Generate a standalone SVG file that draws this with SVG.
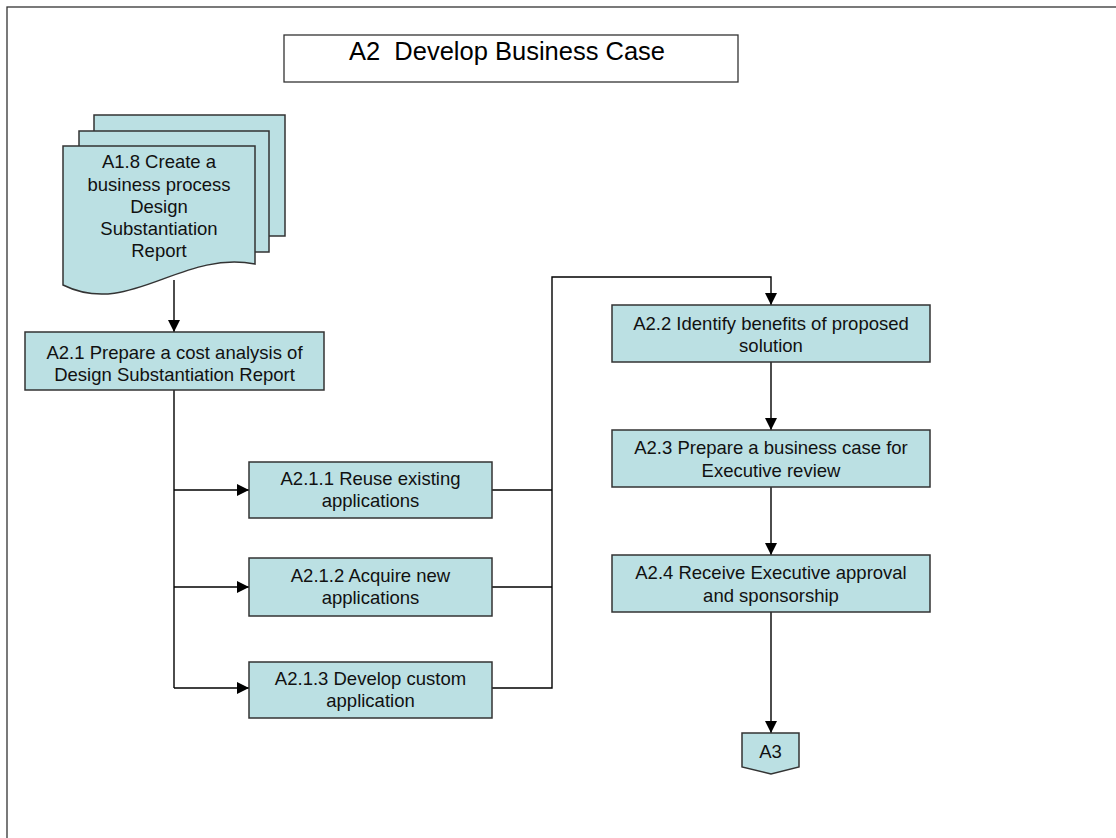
<svg xmlns="http://www.w3.org/2000/svg" width="1116" height="838" viewBox="0 0 1116 838">
<style>
.box{fill:#BBE0E3;stroke:#333;stroke-width:1.5}
.t{font-family:"Liberation Sans",Arial,sans-serif;font-size:18.5px;fill:#111;text-anchor:middle}
.ttl{font-family:"Liberation Sans",Arial,sans-serif;font-size:25.5px;fill:#000;text-anchor:middle;white-space:pre}
.c{fill:none;stroke:#000;stroke-width:1.4}
</style>
<defs>
<marker id="ah" markerUnits="userSpaceOnUse" markerWidth="12" markerHeight="12" refX="12" refY="6" orient="auto">
<path d="M0,0 L12,6 L0,12 Z" fill="#000"/>
</marker>
</defs>
<rect x="0" y="0" width="1116" height="838" fill="#fff"/>
<rect x="7" y="7" width="1300" height="1000" fill="none" stroke="#333" stroke-width="1.3"/>
<g id="title">
<rect x="284" y="35" width="454" height="47" fill="#fff" stroke="#333" stroke-width="1.3"/>
<text class="ttl" x="507" y="60" xml:space="preserve">A2  Develop Business Case</text>
</g>
<g id="connectors">
<path class="c" d="M174,280 V332" marker-end="url(#ah)"/>
<path class="c" d="M174,390 V688"/>
<path class="c" d="M174,490 H249" marker-end="url(#ah)"/>
<path class="c" d="M174,587 H249" marker-end="url(#ah)"/>
<path class="c" d="M174,688 H249" marker-end="url(#ah)"/>
<path class="c" d="M492,490 H552"/>
<path class="c" d="M492,587 H552"/>
<path class="c" d="M492,688 H552 V277 H771 V305" marker-end="url(#ah)"/>
<path class="c" d="M771,362 V430" marker-end="url(#ah)"/>
<path class="c" d="M771,487 V555" marker-end="url(#ah)"/>
<path class="c" d="M771,612 V733" marker-end="url(#ah)"/>
</g>
<g id="doc-A1.8">
<rect class="box" x="94" y="115" width="191" height="121"/>
<rect class="box" x="79" y="131" width="190" height="121"/>
<path class="box" d="M63,146 H255 V264 C180,250 130,318 63,285 Z"/>
<text class="t" x="159" y="168">A1.8 Create a</text>
<text class="t" x="159" y="191">business process</text>
<text class="t" x="159" y="213">Design</text>
<text class="t" x="159" y="235">Substantiation</text>
<text class="t" x="159" y="257">Report</text>
</g>
<g id="A2.1">
<rect class="box" x="25" y="332" width="299" height="58"/>
<text class="t" x="174.5" y="359">A2.1 Prepare a cost analysis of</text>
<text class="t" x="174.5" y="381">Design Substantiation Report</text>
</g>
<g id="A2.1.1">
<rect class="box" x="249" y="462" width="243" height="56"/>
<text class="t" x="370.5" y="485">A2.1.1 Reuse existing</text>
<text class="t" x="370.5" y="507">applications</text>
</g>
<g id="A2.1.2">
<rect class="box" x="249" y="558" width="243" height="58"/>
<text class="t" x="370.5" y="582">A2.1.2 Acquire new</text>
<text class="t" x="370.5" y="604">applications</text>
</g>
<g id="A2.1.3">
<rect class="box" x="249" y="662" width="243" height="56"/>
<text class="t" x="370.5" y="685">A2.1.3 Develop custom</text>
<text class="t" x="370.5" y="707">application</text>
</g>
<g id="A2.2">
<rect class="box" x="612" y="305" width="318" height="57"/>
<text class="t" x="771" y="330">A2.2 Identify benefits of proposed</text>
<text class="t" x="771" y="352">solution</text>
</g>
<g id="A2.3">
<rect class="box" x="612" y="430" width="318" height="57"/>
<text class="t" x="771" y="454">A2.3 Prepare a business case for</text>
<text class="t" x="771" y="477">Executive review</text>
</g>
<g id="A2.4">
<rect class="box" x="612" y="555" width="318" height="57"/>
<text class="t" x="771" y="579">A2.4 Receive Executive approval</text>
<text class="t" x="771" y="602">and sponsorship</text>
</g>
<g id="A3">
<path class="box" d="M742,733 H799 V767 L771,774 L742,767 Z"/>
<text class="t" x="770.5" y="758">A3</text>
</g>
</svg>
